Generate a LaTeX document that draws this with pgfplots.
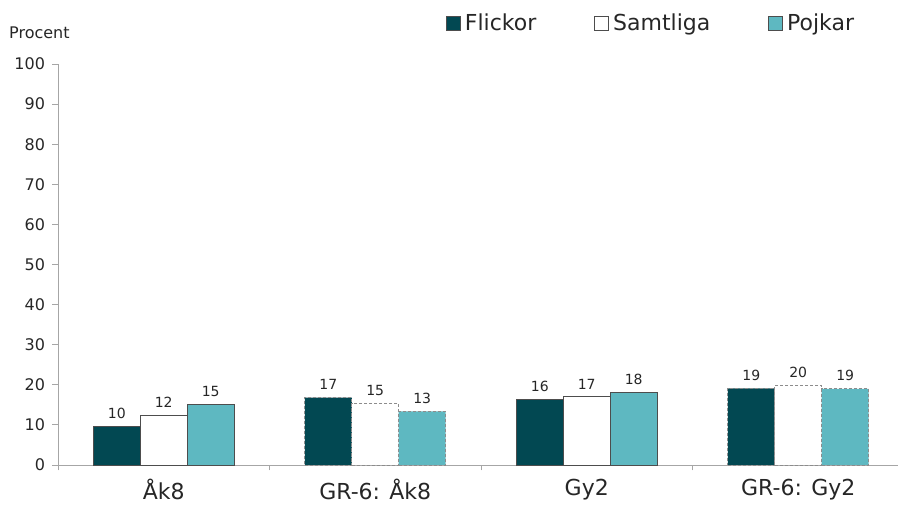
\documentclass[border=0pt]{standalone}
\usepackage{fontspec}
\setmainfont{DejaVu Sans}
\usepackage{pgfplots}
\pgfplotsset{compat=1.18}
\definecolor{fl}{HTML}{024852}
\definecolor{pk}{HTML}{5EB8C1}
\definecolor{axg}{HTML}{A6A6A6}
\definecolor{txt}{HTML}{262626}
\definecolor{bd}{HTML}{4D4D4D}
\definecolor{dg}{HTML}{8C8C8C}
\pgfplotsset{
  sqbar/.style={ybar, bar width=0.222, bar shift=0,
    legend image code/.code={\draw[##1,solid] (0pt,-7pt) rectangle (14pt,7pt);}},
}
\begin{document}
\begin{tikzpicture}[x=1pt,y=1pt]
\useasboundingbox (0,0) rectangle (898,505);
\node[anchor=base west, font=\fontsize{16}{19}\selectfont, text=txt, inner sep=0] at (9,466.7) {Procent};
\begin{axis}[
  at={(58pt,40pt)}, anchor=south west,
  width=846pt, height=401pt, scale only axis,
  xmin=-0.5, xmax=3.5, ymin=0, ymax=100,
  axis x line*=bottom, axis y line*=left,
  axis line style={axg, line width=0.8pt, -},
  tick align=outside, major tick length=5.5pt,
  tick style={axg, line width=0.8pt},
  ytick={0,10,...,100},
  yticklabel style={font=\fontsize{16}{19}\selectfont, text=txt, xshift=-4pt},
  /pgf/number format/assume math mode=true,
  xtick={-0.5,0.5,1.5,2.5,3.5},
  xticklabels={Åk8, GR-6: Åk8, Gy2, GR-6: Gy2},
  x tick label as interval,
  xticklabel style={font=\fontsize{22}{25}\selectfont, text=txt, yshift=-5pt},
  nodes near coords, point meta=explicit symbolic,
  every node near coord/.append style={font=\fontsize{14}{16}\selectfont, text=txt, yshift=4pt},
  legend style={at={(0.455,1.102)}, anchor=west, legend columns=3, draw=none, fill=none,
    font=\fontsize{22}{25}\selectfont, text=txt,
    /tikz/every odd column/.append style={column sep=2pt},
    /tikz/every even column/.append style={column sep=56pt}},
  clip=false,
]
\addplot[sqbar, fill=fl, draw=bd, line width=0.8pt] coordinates {(-0.222,9.6) [10] (1.778,16.4) [16]};
\addlegendentry{Flickor}
\addplot[sqbar, fill=white, draw=bd, line width=0.8pt] coordinates {(0,12.4) [12] (2,17.0) [17]};
\addlegendentry{Samtliga}
\addplot[sqbar, fill=pk, draw=bd, line width=0.8pt] coordinates {(0.222,15.0) [15] (2.222,18.2) [18]};
\addlegendentry{Pojkar}
\addplot[sqbar, fill=fl, draw=dg, line width=0.8pt, dash pattern=on 3pt off 2pt, forget plot] coordinates {(0.778,16.8) [17] (2.778,19.1) [19]};
\addplot[sqbar, fill=white, draw=dg, line width=0.8pt, dash pattern=on 3pt off 2pt, forget plot] coordinates {(1,15.3) [15] (3,19.8) [20]};
\addplot[sqbar, fill=pk, draw=dg, line width=0.8pt, dash pattern=on 3pt off 2pt, forget plot] coordinates {(1.222,13.4) [13] (3.222,19.0) [19]};
\end{axis}
\end{tikzpicture}
\end{document}
